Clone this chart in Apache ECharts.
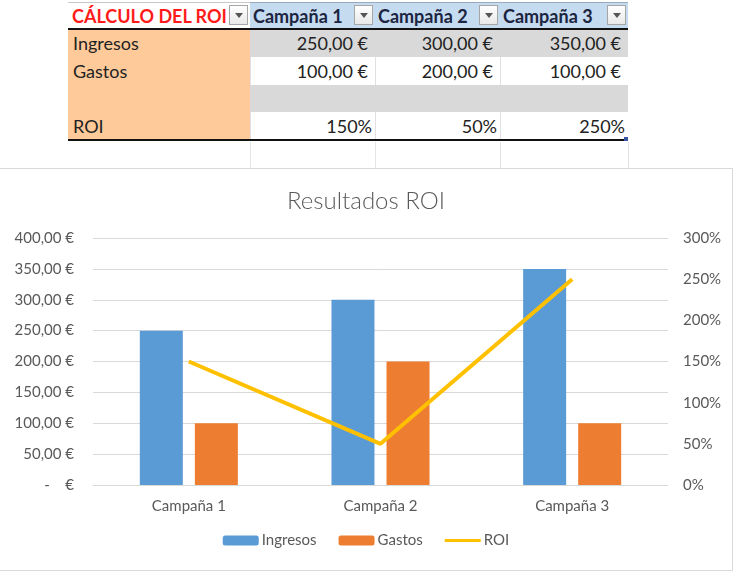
<!DOCTYPE html>
<html>
<head>
    <meta charset="UTF-8">
    <title>Resultados ROI</title>
    <script src="https://cdn.jsdelivr.net/npm/echarts@6/dist/echarts.min.js"></script>
    <style>
        body {
            margin: 0;
            background: #fff;
            font-family: Lato, "Open Sans", sans-serif;
        }
        #page {
            position: relative;
            width: 736px;
            height: 573px;
            overflow: hidden;
        }
        .cell {
            position: absolute;
            box-sizing: border-box;
            font-size: 18px;
            color: #222;
            white-space: nowrap;
        }
        .btn {
            position: absolute;
            width: 19px;
            height: 20px;
            box-sizing: border-box;
            border: 1px solid #a6a6a6;
            background: linear-gradient(#fff, #e8e8e8);
        }
        .btn:after {
            content: "";
            position: absolute;
            left: 5px;
            top: 7px;
            border-left: 4px solid transparent;
            border-right: 4px solid transparent;
            border-top: 5px solid #555;
        }
        .hline {
            position: absolute;
            height: 2px;
            background: #111;
        }
        .vgrid {
            position: absolute;
            width: 1px;
            background: #e4e4e4;
        }
        #main {
            position: absolute;
            left: 0;
            top: 168px;
            width: 733px;
            height: 403px;
            box-sizing: border-box;
            border-top: 1px solid #d9d9d9;
            border-right: 1px solid #d9d9d9;
            border-bottom: 1px solid #d9d9d9;
        }
    </style>
</head>
<body>
<div id="page">
    <div id="tabla"></div>
    <div id="main"></div>
</div>

<script type="text/javascript">
    // datos de la hoja
    var cabecera = 'CÁLCULO DEL ROI';
    var campanas = ['Campaña 1', 'Campaña 2', 'Campaña 3'];
    var filas = ['Ingresos', 'Gastos', '', 'ROI'];
    var ingresos = [250, 300, 350];
    var gastos = [100, 200, 100];
    var roi = [150, 50, 250];   // en %
    var tituloGrafico = 'Resultados ROI';

    function euro(v) {
        return v.toFixed(2).replace('.', ',') + ' €';
    }

    // tabla de excel
    var colX = [68, 250, 375, 500, 628];
    var rowY = [2, 30, 57, 85, 112, 140];
    var html = '';

    function cell(x, y, w, h, txt, css) {
        return '<div class="cell" style="left:' + x + 'px;top:' + y + 'px;width:' + w + 'px;height:' + h +
            'px;line-height:' + h + 'px;' + (css || '') + '">' + txt + '</div>';
    }

    // cabecera
    html += cell(colX[0], rowY[0], colX[1] - colX[0], rowY[1] - rowY[0] - 1, cabecera,
        'color:#ff1a1a;font-weight:bold;padding-left:4px;background:#fff;border-top:1px solid #c8c8c8;');
    for (var i = 0; i < campanas.length; i++) {
        html += cell(colX[i + 1], rowY[0], colX[i + 2] - colX[i + 1], rowY[1] - rowY[0] - 1, campanas[i],
            'font-weight:bold;color:#1c2541;padding-left:3px;background:#c5dbf0;border-top:1px solid #9aa9bb;');
    }
    for (var i = 0; i < 4; i++) {
        html += '<div class="btn" style="left:' + (colX[i + 1] - 21) + 'px;top:5px;"></div>';
    }
    html += '<div class="hline" style="left:68px;top:28px;width:560px;"></div>';

    // filas
    var valores = [ingresos.map(euro), gastos.map(euro), ['', '', ''], roi.map(function (v) { return v + '%'; })];
    for (var r = 0; r < filas.length; r++) {
        var y = rowY[r + 1], h = rowY[r + 2] - rowY[r + 1];
        html += cell(colX[0], y, colX[1] - colX[0], h, filas[r], 'background:#ffca99;padding-left:5px;');
        var gris = (r % 2 === 0);
        for (var c = 0; c < 3; c++) {
            var pr = (r === 3) ? 3 : 7;
            html += cell(colX[c + 1], y, colX[c + 2] - colX[c + 1], h, valores[r][c],
                'text-align:right;padding-right:' + pr + 'px;background:' + (gris ? '#d9d9d9' : '#fff') + ';' +
                (gris ? '' : 'border-left:1px solid #e0e0e0;'));
        }
    }
    html += '<div class="hline" style="left:68px;top:139px;width:560px;"></div>';
    html += '<div style="position:absolute;left:624px;top:137px;width:4px;height:4px;background:#3a55a4;"></div>';
    // lineas de cuadricula bajo la tabla
    [250, 375, 500, 628].forEach(function (x) {
        html += '<div class="vgrid" style="left:' + x + 'px;top:142px;height:26px;"></div>';
    });
    document.getElementById('tabla').innerHTML = html;

    // grafico
    var myChart = echarts.init(document.getElementById('main'));
    var gris = '#595959';
    var option = {
        title: {
            text: tituloGrafico,
            left: 'center',
            top: 15,
            textStyle: {
                fontFamily: 'Lato',
                fontSize: 24,
                fontWeight: 300,
                color: gris
            }
        },
        legend: {
            bottom: 17,
            left: 'center',
            itemWidth: 36,
            itemHeight: 10,
            itemGap: 22,
            textStyle: {
                fontFamily: 'Lato',
                fontSize: 15,
                color: gris,
                padding: [0, 0, 0, -2]
            },
            data: [
                'Ingresos',
                'Gastos',
                // solo la linea, sin el circulo
                { name: 'ROI', icon: 'path://M0,0 M0,10 M0,3.5 L36,3.5 L36,6.5 L0,6.5 Z' }
            ]
        },
        grid: {
            left: 93,
            right: 64,
            top: 69,
            bottom: 85,
            containLabel: false
        },
        xAxis: {
            type: 'category',
            data: campanas,
            axisTick: { show: false },
            axisLine: { lineStyle: { color: '#d9d9d9', width: 1 } },
            axisLabel: {
                margin: 14,
                fontFamily: 'Lato',
                fontSize: 15,
                color: gris
            }
        },
        yAxis: [
            {
                type: 'value',
                min: 0,
                max: 400,
                interval: 50,
                axisLine: { show: false },
                axisTick: { show: false },
                splitLine: { lineStyle: { color: '#d9d9d9' } },
                axisLabel: {
                    margin: 19,
                    fontFamily: 'Lato',
                    fontSize: 15,
                    color: gris,
                    formatter: function (v) {
                        return v === 0 ? '-    €' : euro(v);
                    }
                }
            },
            {
                type: 'value',
                min: 0,
                max: 300,
                interval: 50,
                position: 'right',
                axisLine: { show: false },
                axisTick: { show: false },
                splitLine: { show: false },
                axisLabel: {
                    margin: 15,
                    fontFamily: 'Lato',
                    fontSize: 15,
                    color: gris,
                    formatter: '{value}%'
                }
            }
        ],
        series: [
            {
                name: 'Ingresos',
                type: 'bar',
                data: ingresos,
                barWidth: 43,
                barGap: '28%',
                itemStyle: { color: '#5b9bd5' }
            },
            {
                name: 'Gastos',
                type: 'bar',
                data: gastos,
                barWidth: 43,
                itemStyle: { color: '#ed7d31' }
            },
            {
                name: 'ROI',
                type: 'line',
                yAxisIndex: 1,
                data: roi,
                symbol: 'none',
                lineStyle: { color: '#ffc000', width: 4 },
                itemStyle: { color: '#ffc000' }
            }
        ]
    };
    myChart.setOption(option);
</script>
</body>
</html>
